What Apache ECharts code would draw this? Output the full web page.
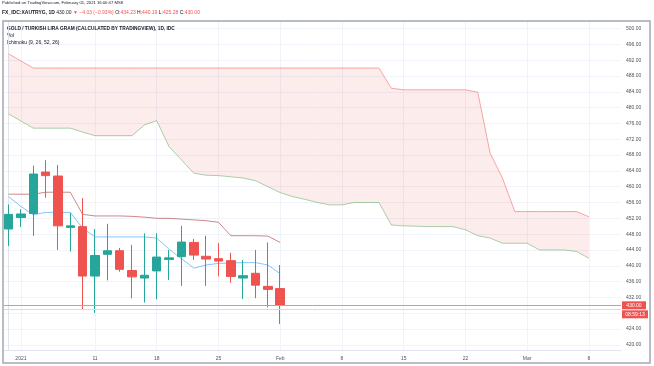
<!DOCTYPE html>
<html><head><meta charset="utf-8">
<script src="https://cdn.jsdelivr.net/npm/echarts@6/dist/echarts.min.js"></script>
<style>html,body{margin:0;padding:0;background:#fff}#c{width:654px;height:366px}</style>
</head><body><div id="c"></div>
<script>
// weekday trading dates (x index = position in this list)
const dates = ['2020-12-31','2021-01-01',
 '2021-01-04','2021-01-05','2021-01-06','2021-01-07','2021-01-08',
 '2021-01-11','2021-01-12','2021-01-13','2021-01-14','2021-01-15',
 '2021-01-18','2021-01-19','2021-01-20','2021-01-21','2021-01-22',
 '2021-01-25','2021-01-26','2021-01-27','2021-01-28','2021-01-29',
 '2021-02-01','2021-02-02','2021-02-03','2021-02-04','2021-02-05',
 '2021-02-08','2021-02-09','2021-02-10','2021-02-11','2021-02-12',
 '2021-02-15','2021-02-16','2021-02-17','2021-02-18','2021-02-19',
 '2021-02-22','2021-02-23','2021-02-24','2021-02-25','2021-02-26',
 '2021-03-01','2021-03-02','2021-03-03','2021-03-04','2021-03-05',
 '2021-03-08','2021-03-09','2021-03-10','2021-03-11','2021-03-12'];

const open  = [449.3,452.2,453.2,463.7,462.7,449.7,449.9,437.4,442.9,443.8,438.8,436.9,438.7,441.6,442.3,445.9,442.4,441.8,441.3,436.9,438.1,434.8,434.23];
const close = [453.0,453.1,463.2,462.8,450.1,450.1,437.4,442.6,443.8,439.1,437.2,437.6,442.2,442.0,446.0,442.7,441.7,441.2,437.3,437.5,435.1,434.03,430.00];
const low   = [445.0,449.8,447.6,457.2,444.0,443.6,428.8,428.1,436.3,438.5,431.8,430.7,431.5,436.4,434.9,441.5,434.9,437.3,435.7,431.6,431.8,429.5,425.28];
const high  = [455.5,454.3,465.3,466.7,465.5,453.4,457.1,449.3,450.6,444.5,445.3,448.2,448.2,444.0,450.1,446.8,447.6,445.7,443.3,441.5,444.0,445.9,440.19];

const tenkan = [457.5,455.0,452.9,453.5,453.5,453.5,449.5,447.3,447.3,447.3,447.3,447.3,447.0,444.2,441.8,439.4,440.2,440.6,440.7,440.8,440.8,440.2,438.0];
const kijun  = [458.1,458.1,458.1,458.6,458.6,458.6,453.0,452.6,452.6,452.6,452.5,452.3,452.0,452.0,451.8,451.6,451.4,451.0,447.6,447.6,447.6,447.5,445.9];

const spanA = [478.4,476.6,474.8,474.8,474.8,474.8,473.8,472.9,472.9,472.9,472.9,475.6,476.7,470.1,466.8,463.4,462.9,462.8,462.5,462.2,461.5,460.0,458.5,457.5,456.8,456.0,455.4,455.4,456.0,456.0,456.0,450.3,450.1,450.0,449.9,449.9,449.9,449.1,447.6,447.0,445.7,445.7,445.7,444.0,444.0,444.0,443.6,441.9];
const spanB = [493.6,491.8,490.0,490.0,490.0,490.0,490.0,490.0,490.0,490.0,490.0,490.0,490.0,490.0,490.0,490.0,490.0,490.0,490.0,490.0,490.0,490.0,490.0,490.0,490.0,490.0,490.0,490.0,490.0,490.0,490.0,484.9,484.5,484.5,484.5,484.5,484.5,484.5,483.9,468.5,462.2,453.7,453.7,453.7,453.7,453.7,453.7,452.4];

const tickIdx = [1,7,12,17,22,27,32,37,42,47];
const tickLabels = ['2021','11','18','25','Feb','8','15','22','Mar','8'];
const priceTicks = [420,424,428,432,436,440,444,448,452,456,460,464,468,472,476,480,484,488,492,496,500];
const lastPrice = 430.00;
const prevLine = 429.1;

const UP = '#26a69a', DOWN = '#ef5350';
const chart = echarts.init(document.getElementById('c'), null, {renderer:'canvas'});
const font = 'Liberation Sans, Arial, sans-serif';

const candleData = open.map((o,i)=>[i, o, close[i], low[i], high[i]]);
const cloudData = spanA.map((a,i)=>[i, a, spanB[i]]);

chart.setOption({
  animation:false,
  backgroundColor:'#ffffff',
  grid:{left:4, right:33, top:21, bottom:16},
  xAxis:{type:'value', min:-0.37, max:49.6,
    axisLine:{show:true, lineStyle:{color:'#e0e3eb'}},
    axisTick:{show:false, customValues:tickIdx},
    splitLine:{show:true, lineStyle:{color:'#f0f3fa', width:1}},
    axisLabel:{customValues:tickIdx, fontSize:5, color:'#50535e', fontFamily:font, margin:6,
      formatter:(v)=>{const k=tickIdx.indexOf(Math.round(v)); return k>=0?tickLabels[k]:'';}}
  },
  yAxis:{type:'value', position:'right', min:418.7, max:501.9, scale:true,
    axisLine:{show:true, lineStyle:{color:'#e0e3eb'}},
    axisTick:{show:false, customValues:priceTicks},
    splitLine:{show:true, lineStyle:{color:'#f0f3fa', width:1}},
    axisLabel:{customValues:priceTicks, fontSize:5, color:'#50535e', fontFamily:font, margin:5,
      formatter:(v)=>v.toFixed(2)}
  },
  series:[
    {type:'custom', name:'cloud', data:cloudData, z:1, silent:true,
      renderItem:(params, api)=>{
        if(params.dataIndex!==0) return null;
        const pts=[];
        for(let i=0;i<spanB.length;i++) pts.push(api.coord([i, spanB[i]]));
        for(let i=spanA.length-1;i>=0;i--) pts.push(api.coord([i, spanA[i]]));
        return {type:'polygon', shape:{points:pts}, style:{fill:'rgba(239,83,80,0.11)', stroke:null}};
      }, clip:true},
    {type:'line', name:'Lead 2', data:spanB.map((v,i)=>[i,v]), showSymbol:false, z:2,
      lineStyle:{color:'rgba(239,83,80,0.5)', width:1}},
    {type:'line', name:'Lead 1', data:spanA.map((v,i)=>[i,v]), showSymbol:false, z:2,
      lineStyle:{color:'rgba(67,160,71,0.45)', width:1}},
    {type:'line', name:'Base', data:kijun.map((v,i)=>[i,v]), showSymbol:false, z:3,
      lineStyle:{color:'rgba(153,21,21,0.5)', width:1}},
    {type:'line', name:'Conversion', data:tenkan.map((v,i)=>[i,v]), showSymbol:false, z:3,
      lineStyle:{color:'rgba(33,150,243,0.55)', width:1}},
    {type:'line', name:'PriceLine', data:[], z:3, showSymbol:false,
      markLine:{symbol:['none','none'], silent:true, label:{show:false}, animation:false,
        data:[{yAxis:lastPrice, lineStyle:{color:'#f28b89', width:1, type:'solid', opacity:1}},
              {yAxis:prevLine, lineStyle:{color:'#f8d0c8', width:1, type:'solid', opacity:1}}]}},
    {type:'candlestick', name:'XAUTRYG', data:candleData, encode:{x:0, y:[1,2,3,4]}, barWidth:9, z:4,
      itemStyle:{color:UP, color0:DOWN, borderColor:UP, borderColor0:DOWN, borderWidth:1}
    }
  ]
});

const py = chart.convertToPixel({yAxisIndex:0}, lastPrice);
chart.setOption({
  graphic:[
    {type:'rect', shape:{x:3, y:21, width:647, height:342}, style:{fill:null, stroke:'#a3a6af', lineWidth:1.5}, z:100, silent:true},
    {type:'text', x:2, y:1, style:{text:'Published on TradingView.com, February 01, 2021 16:00:47 MSK', fontSize:4.2, fontFamily:font, fill:'#131722'}},
    {type:'text', x:2, y:10, style:{text:'{b|FX_IDC:XAUTRYG, 1D} {n|430.00} {r|▼ −4.03 (−0.93%)} {n|O:}{r|434.23} {n|H:}{r|440.19} {n|L:}{r|425.28} {n|C:}{r|430.00}',
      fontSize:5, fontFamily:font,
      rich:{b:{fontSize:5, fontWeight:'bold', fill:'#131722', fontFamily:font}, n:{fontSize:5, fill:'#131722', fontFamily:font}, r:{fontSize:5, fill:'#ef5350', fontFamily:font}}}},
    {type:'text', x:7, y:26, style:{text:'GOLD / TURKISH LIRA GRAM (CALCULATED BY TRADINGVIEW), 1D, IDC', fontSize:4.8, fontWeight:'bold', fontFamily:font, fill:'#131722'}},
    {type:'text', x:7, y:33, style:{text:'Vol', fontSize:5, fontFamily:font, fill:'#131722'}},
    {type:'text', x:7, y:40, style:{text:'Ichimoku (9, 26, 52, 26)', fontSize:5, fontFamily:font, fill:'#131722'}},
    {type:'rect', shape:{x:622, y:py-4, width:24, height:8}, style:{fill:'#ef5350'}, z:50},
    {type:'text', x:634, y:py, style:{text:'430.00', fontSize:5, fontFamily:font, fill:'#ffffff', align:'center', verticalAlign:'middle'}, z:51},
    {type:'rect', shape:{x:622, y:py+5, width:26, height:8}, style:{fill:'#ef5350'}, z:50},
    {type:'text', x:635, y:py+9, style:{text:'08:59:13', fontSize:5, fontFamily:font, fill:'#ffffff', align:'center', verticalAlign:'middle'}, z:51}
  ]
});
</script></body></html>
